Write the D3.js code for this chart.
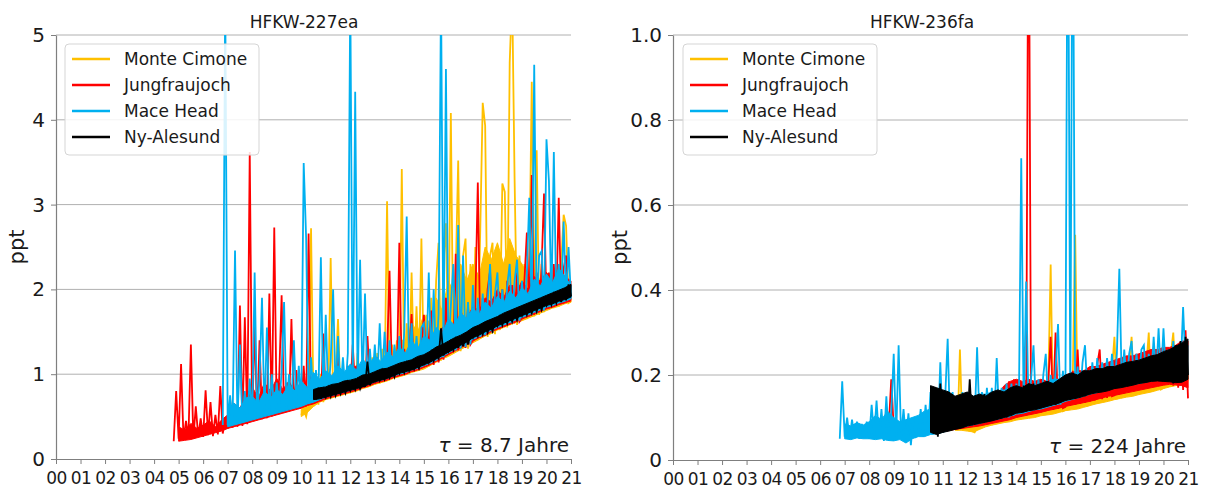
<!DOCTYPE html>
<html><head><meta charset="utf-8">
<script src="https://cdn.jsdelivr.net/npm/d3@7"></script>
<style>
html,body{margin:0;padding:0;background:#fff;}
svg{display:block;font-family:"DejaVu Sans",sans-serif;}
</style></head>
<body>
<svg id="chart" width="1205" height="493"></svg>
<script>
// ---------- data ----------
const stations = ["Monte Cimone", "Jungfraujoch", "Mace Head", "Ny-Alesund"];
const stationColors = ["#FFC000", "#FF0000", "#00B0F0", "#000000"];
const xTickLabels = ["00","01","02","03","04","05","06","07","08","09","10","11","12","13","14","15","16","17","18","19","20","21"];
const yTicks227 = [0, 1, 2, 3, 4, 5];
const yTickLabels227 = ["0", "1", "2", "3", "4", "5"];
const yTicks236 = [0, 0.2, 0.4, 0.6, 0.8, 1.0];
const yTickLabels236 = ["0", "0.2", "0.4", "0.6", "0.8", "1.0"];
const titles = ["HFKW-227ea", "HFKW-236fa"];
const lifetimes = ["8.7 Jahre", "224 Jahre"];
const sampleStep = 0.1;    // individual readings, every 0.1 year
const bandStep = 0.25;     // spread of the dense readings (low / high), every 0.25 year

// ===== HFKW-227ea =====
const mc227Start = 2010.0;
const mc227 = [
 0.52,0.58,0.50,0.65,2.72,0.62,0.85,0.64,1.00,0.67,
 0.90,0.71,2.37,0.73,1.00,1.65,0.75,1.05,0.77,1.10,
 0.79,1.20,0.80,1.25,0.82,1.10,0.84,1.15,0.86,1.20,
 0.88,1.25,0.89,1.30,0.91,3.04,0.93,1.35,0.95,1.40,
 0.97,3.42,0.99,1.60,1.01,2.20,1.03,1.80,1.05,2.60,
 1.07,1.70,1.09,1.90,1.12,2.10,2.55,1.16,2.30,2.78,
 1.22,4.08,1.24,2.20,3.52,1.27,2.40,2.60,1.30,2.30,
 1.38,2.50,1.40,2.70,4.20,3.93,1.44,2.40,2.55,1.47,
 2.40,1.52,3.25,3.15,1.55,4.67,5.50,3.30,1.58,2.40,
 1.64,2.30,1.65,2.20,4.45,1.68,3.64,1.70,2.30,1.73,
 2.20,1.76,2.40,1.78,2.10,1.80,2.30,2.88,2.75,1.84,
 1.86];
const mc227BandStart = 2010.0;
const mc227Lo = [
 0.50,0.55,0.62,0.67, 0.70,0.72,0.74,0.76, 0.78,0.80,0.83,0.85, 0.88,0.90,0.92,0.95,
 0.97,0.99,1.02,1.04, 1.06,1.10,1.14,1.18, 1.21,1.25,1.29,1.33, 1.37,1.41,1.45,1.48,
 1.52,1.55,1.58,1.61, 1.63,1.66,1.69,1.72, 1.75,1.78,1.80,1.83, 1.85];
const mc227Hi = [
 0.58,0.70,0.85,0.80, 0.95,0.90,1.00,0.95, 1.05,1.00,1.10,1.05, 1.15,1.10,1.25,1.20,
 1.45,1.35,1.60,1.50, 1.70,1.60,1.90,1.75, 2.10,1.95,2.30,2.10, 2.30,2.15,2.50,2.35,
 2.55,2.30,2.60,2.40, 2.30,2.15,2.25,2.10, 2.20,2.05,2.30,2.15, 2.05];

const jfj227Start = 2004.8;
const jfj227 = [
 0.21,0.80,
 0.24,1.12,0.23,0.45,0.25,1.35,0.24,0.62,0.26,0.48,
 0.26,0.81,0.28,0.67,0.27,0.52,0.29,0.86,0.30,0.47,
 0.36,0.70,0.37,0.62,0.38,1.81,0.39,1.67,0.41,3.62,
 0.45,1.60,0.46,1.40,0.47,0.85,0.48,1.95,0.50,2.73,
 0.53,0.95,1.93,0.55,0.90,0.56,1.65,0.58,1.05,0.60,
 0.61,1.10,0.62,2.66,0.64,1.00,0.66,0.95,0.68,1.48,
 0.72,1.00,0.73,0.95,0.74,1.30,0.76,1.05,0.78,1.10,
 0.80,1.35,0.81,1.10,0.83,1.05,0.85,1.45,0.87,1.15,
 0.90,1.20,0.91,1.15,0.92,1.25,2.22,0.95,1.20,0.97,
 2.55,0.99,1.30,1.00,1.25,1.71,1.03,1.35,1.05,1.30,
 1.70,1.09,1.40,1.75,1.11,1.45,1.14,1.50,1.17,1.90,
 1.24,1.60,1.26,2.42,1.28,1.75,1.65,1.31,1.80,1.35,
 1.40,1.85,3.26,1.43,1.90,1.45,2.00,2.22,1.49,1.95,
 1.80,1.54,2.00,1.56,2.10,1.58,2.05,1.60,2.20,1.62,
 1.66,2.10,2.67,1.68,3.35,1.70,2.20,1.73,2.25,3.13,
 1.78,2.20,1.79,2.30,1.81,3.08,1.83,2.25,2.40,1.86,
 1.87];
const jfj227BandStart = 2005.0;
const jfj227Lo = [
 0.21,0.22,0.23,0.25, 0.27,0.29,0.31,0.33, 0.36,0.38,0.40,0.42, 0.44,0.46,0.48,0.50,
 0.52,0.54,0.56,0.58, 0.60,0.63,0.65,0.68, 0.71,0.73,0.75,0.77, 0.79,0.81,0.84,0.86,
 0.89,0.91,0.93,0.96, 0.98,1.00,1.03,1.05, 1.08,1.11,1.15,1.19, 1.23,1.27,1.31,1.35,
 1.39,1.43,1.46,1.50, 1.53,1.56,1.59,1.62, 1.65,1.68,1.71,1.74, 1.77,1.79,1.82,1.84, 1.87];
const jfj227Hi = [
 0.38,0.34,0.42,0.36, 0.40,0.45,0.38,0.46, 0.52,0.66,0.60,0.75, 0.85,0.72,0.90,0.80,
 0.95,0.82,0.92,0.78, 0.92,0.84,0.98,0.88, 1.00,0.95,1.05,0.98, 1.05,1.10,1.00,1.12,
 1.15,1.10,1.25,1.20, 1.30,1.22,1.35,1.28, 1.40,1.45,1.38,1.55, 1.60,1.55,1.70,1.65,
 1.80,1.75,1.90,1.85, 2.00,1.90,2.05,1.95, 2.10,2.00,2.15,2.10, 2.20,2.10,2.25,2.15, 2.10];

const mh227Start = 2006.8;
const mh227 = [
 0.40,5.50,
 0.40,0.75,0.41,2.46,0.42,1.35,0.43,0.80,0.45,0.95,
 0.48,2.20,0.49,0.95,1.90,0.50,1.55,0.52,1.00,0.54,
 0.90,0.56,1.05,1.85,0.58,1.00,0.60,1.40,0.62,1.10,
 0.64,3.49,2.60,0.66,1.20,0.68,1.05,0.70,2.38,0.72,
 1.70,0.75,1.15,2.00,0.77,1.45,0.79,1.20,0.81,1.25,
 5.50,0.83,4.33,0.84,2.35,0.86,1.95,0.88,1.30,0.90,
 1.35,0.92,1.60,0.93,1.50,0.95,1.40,0.97,1.35,0.99,
 1.45,1.01,1.50,2.86,1.03,1.60,1.05,1.45,1.07,1.55,
 1.60,1.11,2.20,1.13,2.00,1.16,1.70,5.50,1.20,4.60,
 1.26,1.80,2.30,1.28,2.76,1.30,2.40,1.32,1.85,1.35,
 2.05,1.42,1.90,1.44,1.95,1.46,1.85,2.30,1.49,1.95,
 2.20,1.56,2.00,1.58,2.05,2.30,1.60,2.10,2.35,1.63,
 2.10,1.68,2.20,3.08,1.70,4.65,1.72,2.40,2.45,1.75,
 3.77,3.28,1.81,3.62,1.83,2.30,1.85,2.80,1.87,2.50,
 1.90];
const mh227BandStart = 2007.0;
const mh227Lo = [
 0.38,0.40,0.42,0.44, 0.46,0.48,0.50,0.52, 0.54,0.56,0.58,0.60, 0.62,0.65,0.67,0.70,
 0.73,0.75,0.77,0.79, 0.81,0.83,0.86,0.88, 0.91,0.93,0.95,0.98, 1.00,1.02,1.05,1.07,
 1.10,1.13,1.17,1.21, 1.25,1.29,1.33,1.37, 1.41,1.45,1.48,1.52, 1.55,1.58,1.61,1.64,
 1.67,1.70,1.73,1.76, 1.79,1.81,1.84,1.86, 1.89];
const mh227Hi = [
 0.58,0.66,0.60,0.72, 0.74,0.66,0.80,0.72, 0.82,0.76,0.88,0.80, 0.92,0.84,1.02,0.94,
 1.04,0.98,1.10,1.02, 1.12,1.05,1.18,1.10, 1.22,1.15,1.26,1.20, 1.32,1.25,1.40,1.30,
 1.45,1.40,1.55,1.48, 1.65,1.58,1.72,1.66, 1.78,1.70,1.85,1.78, 1.92,1.84,1.98,1.90,
 2.02,1.95,2.12,2.04, 2.18,2.08,2.25,2.15, 2.05];

const ny227Start = 2010.6;
const ny227 = [
 0.70,0.84,0.71,0.82,
 0.73,0.84,0.74,0.86,0.75,0.85,0.77,0.88,0.78,0.90,
 0.81,0.91,0.82,0.93,0.83,0.92,0.85,1.15,0.87,0.97,
 0.92,1.02,0.93,1.04,0.94,1.03,0.96,1.06,0.97,1.08,
 1.01,1.11,1.02,1.13,1.04,1.12,1.06,1.15,1.07,1.17,
 1.12,1.22,1.14,1.26,1.16,1.25,1.19,1.54,1.22,1.33,
 1.27,1.38,1.29,1.41,1.31,1.44,1.33,1.46,1.35,1.48,
 1.43,1.53,1.45,1.56,1.47,1.58,1.49,1.60,1.51,1.62,
 1.57,1.67,1.58,1.69,1.60,1.71,1.62,1.73,1.64,1.75,
 1.69,1.79,1.70,1.81,1.72,1.83,1.74,1.85,1.76,1.87,
 1.81,1.91,1.82,1.94,1.84,1.96,1.85,2.00,1.87,2.06,
 1.92];
const ny227BandStart = 2010.5;
const ny227Lo = [
 0.70,0.71,
 0.73,0.75,0.77,0.79, 0.81,0.83,0.85,0.88, 0.91,0.93,0.95,0.98, 1.01,1.03,1.05,1.08,
 1.11,1.14,1.18,1.22, 1.26,1.30,1.34,1.38, 1.43,1.46,1.50,1.53, 1.57,1.60,1.63,1.66,
 1.69,1.72,1.75,1.78, 1.81,1.83,1.86,1.88, 1.91];
const ny227Hi = [
 0.82,0.84,
 0.85,0.88,0.89,0.92, 0.93,0.95,0.99,1.00, 1.03,1.06,1.07,1.10, 1.13,1.15,1.17,1.21,
 1.23,1.27,1.32,1.35, 1.39,1.43,1.46,1.50, 1.55,1.58,1.62,1.65, 1.68,1.72,1.75,1.78,
 1.81,1.84,1.87,1.90, 1.93,1.96,1.99,2.02, 2.06];

// ===== HFKW-236fa =====
const mc236Start = 2011.2;
const mc236 = [
 0.075,0.13,0.072,0.12,0.07,0.26,0.07,0.12,
 0.072,0.12,0.068,0.065,0.075,0.13,0.078,0.12,0.08,0.13,
 0.082,0.14,0.085,0.13,0.088,0.14,0.09,0.15,0.092,0.14,
 0.094,0.15,0.096,0.16,0.098,0.15,0.10,0.16,0.102,0.16,
 0.105,0.16,0.108,0.17,0.46,0.11,0.17,0.112,0.18,0.115,
 0.118,0.18,0.12,0.19,0.53,0.122,0.19,0.125,0.19,0.128,
 0.13,0.20,0.132,0.20,0.135,0.21,0.138,0.20,0.14,0.21,
 0.29,0.143,0.21,0.146,0.22,0.15,0.22,0.29,0.152,0.22,
 0.155,0.23,0.158,0.22,0.30,0.16,0.23,0.163,0.24,0.166,
 0.17,0.24,0.172,0.25,0.30,0.175,0.25,0.178,0.26,0.18,
 0.185];
const mc236BandStart = 2011.5;
const mc236Lo = [
 0.070,0.070,
 0.068,0.066,0.072,0.078, 0.082,0.085,0.088,0.090, 0.094,0.096,0.098,0.100, 0.104,0.106,0.108,0.112,
 0.116,0.118,0.120,0.124, 0.128,0.132,0.135,0.138, 0.142,0.145,0.148,0.150, 0.154,0.157,0.160,0.164,
 0.168,0.172,0.175,0.178, 0.185];
const mc236Hi = [
 0.12,0.12,
 0.12,0.12,0.13,0.13, 0.14,0.14,0.145,0.15, 0.15,0.155,0.16,0.16, 0.165,0.17,0.17,0.175,
 0.18,0.185,0.19,0.19, 0.195,0.20,0.20,0.205, 0.21,0.21,0.215,0.22, 0.22,0.225,0.23,0.235,
 0.24,0.245,0.25,0.255, 0.26];

const jfj236EarlyStart = 2008.8;
const jfj236Early = [0.08, 0.19, 0.075];
const jfj236Start = 2011.0;
const jfj236 = [
 0.07,0.13,0.068,0.14,0.07,0.12,0.072,0.13,0.074,0.14,
 0.076,0.14,0.078,0.15,0.08,0.14,0.082,0.15,0.085,0.145,
 0.088,0.15,0.09,0.155,0.092,0.16,0.095,0.185,0.10,0.19,
 0.10,0.19,0.102,0.18,0.105,1.50,0.108,0.18,0.11,0.185,
 0.112,0.19,0.115,0.18,0.29,0.118,0.30,0.12,0.19,0.122,
 0.125,0.20,0.128,0.21,0.13,0.26,0.132,0.21,0.135,0.215,
 0.138,0.22,0.14,0.225,0.26,0.143,0.22,0.146,0.23,0.15,
 0.152,0.235,0.155,0.24,0.158,0.245,0.16,0.24,0.162,0.25,
 0.165,0.25,0.168,0.255,0.17,0.26,0.172,0.255,0.175,0.26,
 0.178,0.26,0.18,0.265,0.175,0.27,0.17,0.28,0.165,0.305,
 0.145];
const jfj236BandStart = 2011.0;
const jfj236Lo = [
 0.068,0.070,0.072,0.074, 0.076,0.078,0.080,0.083, 0.086,0.089,0.092,0.095, 0.100,0.103,0.106,0.109,
 0.112,0.116,0.119,0.122, 0.126,0.129,0.132,0.135, 0.138,0.142,0.146,0.150, 0.152,0.155,0.158,0.161,
 0.164,0.167,0.170,0.173, 0.176,0.178,0.177,0.175, 0.170];
const jfj236Hi = [
 0.13,0.13,0.135,0.14, 0.14,0.145,0.14,0.15, 0.15,0.155,0.175,0.185, 0.19,0.185,0.19,0.185,
 0.19,0.185,0.19,0.19, 0.20,0.205,0.21,0.21, 0.22,0.22,0.225,0.23, 0.235,0.24,0.245,0.245,
 0.25,0.255,0.26,0.26, 0.265,0.265,0.27,0.28, 0.28];

const mh236Start = 2006.8;
const mh236 = [
 0.05,0.185,
 0.055,0.10,0.050,0.095,0.052,0.09,0.05,0.085,0.055,0.09,
 0.05,0.13,0.055,0.14,0.05,0.12,0.045,0.15,0.05,0.11,
 0.25,0.05,0.27,0.055,0.12,0.05,0.11,0.035,0.10,0.055,
 0.06,0.12,0.055,0.13,0.06,0.16,0.06,0.17,0.065,0.23,
 0.07,0.15,0.285,0.072,0.16,0.075,0.15,0.078,0.16,0.08,
 0.16,0.082,0.15,0.085,0.265,0.088,0.16,0.09,0.17,0.092,
 0.17,0.095,0.24,0.098,0.17,0.10,0.18,0.10,0.18,0.105,
 0.18,0.108,0.71,0.11,0.42,0.115,0.19,0.27,0.12,0.19,
 0.122,0.20,0.25,0.125,0.20,0.128,0.21,0.32,0.13,0.21,
 0.14,1.50,0.142,1.50,0.145,0.22,0.15,0.23,0.27,0.155,
 0.16,0.23,0.162,0.24,0.165,0.23,0.168,0.24,0.17,0.25,
 0.172,0.25,0.45,0.175,0.26,0.178,0.25,0.28,0.18,0.25,
 0.185,0.26,0.27,0.188,0.25,0.19,0.29,0.192,0.31,0.195,
 0.31,0.198,0.26,0.20,0.28,0.205,0.27,0.21,0.36,0.22,
 0.22];
const mh236BandStart = 2007.0;
const mh236Lo = [
 0.050,0.048,0.052,0.050, 0.050,0.048,0.050,0.046, 0.045,0.048,0.040,0.050, 0.055,0.055,0.060,0.062,
 0.065,0.070,0.075,0.078, 0.080,0.083,0.086,0.090, 0.093,0.096,0.100,0.103, 0.108,0.110,0.114,0.118,
 0.120,0.124,0.128,0.132, 0.138,0.142,0.146,0.150, 0.155,0.158,0.162,0.166, 0.170,0.172,0.175,0.178,
 0.180,0.183,0.186,0.188, 0.190,0.193,0.196,0.198, 0.200];
const mh236Hi = [
 0.085,0.080,0.088,0.082, 0.090,0.105,0.095,0.115, 0.100,0.090,0.095,0.100, 0.105,0.115,0.120,0.130,
 0.140,0.140,0.145,0.145, 0.150,0.150,0.155,0.155, 0.160,0.160,0.165,0.165, 0.170,0.170,0.175,0.175,
 0.180,0.180,0.190,0.190, 0.200,0.200,0.205,0.205, 0.210,0.210,0.215,0.215, 0.220,0.220,0.225,0.230,
 0.235,0.235,0.240,0.240, 0.250,0.250,0.260,0.265, 0.270];

const ny236Start = 2010.6;
const ny236 = [
 0.07,0.17,0.055,0.18,
 0.065,0.16,0.07,0.15,0.072,0.14,0.075,0.15,0.078,0.145,
 0.08,0.19,0.082,0.15,0.085,0.14,0.088,0.155,0.09,0.15,
 0.092,0.16,0.095,0.155,0.098,0.16,0.10,0.165,0.105,0.17,
 0.11,0.17,0.112,0.175,0.115,0.17,0.118,0.18,0.12,0.175,
 0.122,0.18,0.125,0.185,0.128,0.18,0.13,0.16,0.135,0.19,
 0.14,0.20,0.142,0.205,0.145,0.20,0.148,0.21,0.15,0.205,
 0.155,0.21,0.158,0.215,0.16,0.21,0.162,0.22,0.165,0.215,
 0.168,0.22,0.17,0.225,0.172,0.23,0.175,0.225,0.178,0.235,
 0.18,0.235,0.182,0.24,0.185,0.245,0.188,0.24,0.19,0.25,
 0.185,0.255,0.19,0.26,0.18,0.27,0.185,0.28,0.19,0.29,
 0.20];
const ny236BandStart = 2010.5;
const ny236Lo = [
 0.065,0.060,
 0.065,0.068,0.072,0.075, 0.080,0.083,0.086,0.089, 0.092,0.096,0.100,0.104, 0.110,0.112,0.116,0.118,
 0.122,0.126,0.130,0.134, 0.140,0.143,0.146,0.150, 0.155,0.158,0.160,0.163, 0.168,0.170,0.173,0.176,
 0.180,0.182,0.185,0.186, 0.185,0.184,0.182,0.183, 0.190];
const ny236Hi = [
 0.175,0.170,
 0.165,0.160,0.150,0.155, 0.160,0.150,0.155,0.150, 0.160,0.165,0.160,0.170, 0.175,0.170,0.180,0.175,
 0.180,0.185,0.180,0.190, 0.200,0.205,0.200,0.210, 0.210,0.215,0.215,0.220, 0.220,0.225,0.230,0.232,
 0.235,0.240,0.245,0.248, 0.255,0.260,0.268,0.275, 0.285];

// ---------- drawing ----------
const svg = d3.select("#chart");
svg.append("rect").attr("width", 1205).attr("height", 493).attr("fill", "#fff");

const toPoints = (start, vals) => vals.map((v, i) => [start + i * sampleStep, v]);
const toBand = (start, lo, hi) => lo.map((v, i) => [Math.min(start + i * bandStep, 2021), v, hi[i]]);

const panels = [
  { title: titles[0], titleX: 304, left: 56, right: 571, top: 35, bottom: 459, yMax: 5,
    yTicks: yTicks227, yLabels: yTickLabels227, tau: lifetimes[0],
    legend: { x: 65, y: 44 },
    series: [
      { c: 0, pts: toPoints(mc227Start, mc227), band: toBand(mc227BandStart, mc227Lo, mc227Hi) },
      { c: 1, pts: toPoints(jfj227Start, jfj227), band: toBand(jfj227BandStart, jfj227Lo, jfj227Hi) },
      { c: 2, pts: toPoints(mh227Start, mh227), band: toBand(mh227BandStart, mh227Lo, mh227Hi) },
      { c: 3, pts: toPoints(ny227Start, ny227), band: toBand(ny227BandStart, ny227Lo, ny227Hi) } ] },
  { title: titles[1], titleX: 922, left: 673, right: 1188, top: 35, bottom: 460, yMax: 1.0,
    yTicks: yTicks236, yLabels: yTickLabels236, tau: lifetimes[1],
    legend: { x: 683, y: 44 },
    series: [
      { c: 0, pts: toPoints(mc236Start, mc236), band: toBand(mc236BandStart, mc236Lo, mc236Hi) },
      { c: 1, pts: toPoints(jfj236EarlyStart, jfj236Early), band: null },
      { c: 1, pts: toPoints(jfj236Start, jfj236), band: toBand(jfj236BandStart, jfj236Lo, jfj236Hi) },
      { c: 2, pts: toPoints(mh236Start, mh236), band: toBand(mh236BandStart, mh236Lo, mh236Hi) },
      { c: 3, pts: toPoints(ny236Start, ny236), band: toBand(ny236BandStart, ny236Lo, ny236Hi) } ] }
];

const gridColor = "#b0b0b0", spineColor = "#7f7f7f", textColor = "#1a1a1a";

panels.forEach((p, pi) => {
  const x = d3.scaleLinear().domain([2000, 2021]).range([p.left, p.right]);
  const y = d3.scaleLinear().domain([0, p.yMax]).range([p.bottom, p.top]);
  const g = svg.append("g");

  g.selectAll("line.grid").data(p.yTicks.filter(t => t > 0)).join("line")
    .attr("x1", p.left).attr("x2", p.right)
    .attr("y1", d => y(d)).attr("y2", d => y(d))
    .attr("stroke", gridColor).attr("stroke-width", 1);

  const clipId = "clip" + pi;
  svg.append("clipPath").attr("id", clipId).append("rect")
    .attr("x", p.left).attr("y", p.top).attr("width", p.right - p.left + 1).attr("height", p.bottom - p.top + 2);

  const line = d3.line().x(d => x(d[0])).y(d => y(d[1]));
  const area = d3.area().x(d => x(d[0])).y0(d => y(d[1])).y1(d => y(d[2]));
  const lg = g.append("g").attr("clip-path", `url(#${clipId})`);
  p.series.forEach(s => {
    if (s.band) {
      lg.append("path").datum(s.band).attr("d", area)
        .attr("fill", stationColors[s.c]).attr("stroke", stationColors[s.c]).attr("stroke-width", 1);
    }
    lg.append("path").datum(s.pts).attr("d", line)
      .attr("fill", "none").attr("stroke", stationColors[s.c])
      .attr("stroke-width", 1.8).attr("stroke-linejoin", "miter");
  });

  const xAxis = d3.axisBottom(x).tickValues(d3.range(2000, 2022))
    .tickFormat((d, i) => xTickLabels[i]).tickSize(5).tickPadding(8).tickSizeOuter(0);
  const xa = g.append("g").attr("transform", `translate(0,${p.bottom})`).call(xAxis);
  xa.select(".domain").attr("stroke", spineColor).attr("stroke-width", 1.2);
  xa.selectAll(".tick line").attr("stroke", spineColor);
  xa.selectAll(".tick text").attr("font-size", 17).attr("fill", textColor)
    .attr("font-family", "DejaVu Sans").attr("letter-spacing", -0.6);

  const yAxis = d3.axisLeft(y).tickValues(p.yTicks)
    .tickFormat((d, i) => p.yLabels[i]).tickSize(5).tickPadding(6).tickSizeOuter(0);
  const ya = g.append("g").attr("transform", `translate(${p.left},0)`).call(yAxis);
  ya.select(".domain").attr("stroke", spineColor).attr("stroke-width", 1.2);
  ya.selectAll(".tick line").attr("stroke", spineColor);
  ya.selectAll(".tick text").attr("font-size", 20).attr("fill", textColor).attr("font-family", "DejaVu Sans");

  g.append("text").attr("transform", `translate(${p.left - 32 - (pi ? 14 : 0)},${(p.top + p.bottom) / 2}) rotate(-90)`)
    .attr("text-anchor", "middle").attr("font-size", 21).attr("fill", textColor).text("ppt");

  g.append("text").attr("x", p.titleX).attr("y", 28)
    .attr("text-anchor", "middle").attr("font-size", 17).attr("fill", textColor).text(p.title);

  const tt = g.append("text").attr("x", p.right - 2).attr("y", p.bottom - 7)
    .attr("text-anchor", "end").attr("font-size", 20).attr("fill", textColor);
  tt.append("tspan").attr("font-style", "italic").text("τ");
  tt.append("tspan").text(" = " + p.tau);

  const L = p.legend;
  g.append("rect").attr("x", L.x).attr("y", L.y).attr("width", 194).attr("height", 111)
    .attr("rx", 4).attr("fill", "#fff").attr("fill-opacity", 0.85)
    .attr("stroke", "#d5d5d5").attr("stroke-width", 1);
  stations.forEach((name, i) => {
    const cy = L.y + 15 + i * 26;
    g.append("line").attr("x1", L.x + 7).attr("x2", L.x + 45).attr("y1", cy).attr("y2", cy)
      .attr("stroke", stationColors[i]).attr("stroke-width", 2.5);
    g.append("text").attr("x", L.x + 59).attr("y", cy).attr("dy", "0.35em")
      .attr("font-size", 17).attr("fill", textColor).text(name);
  });
});
</script>
</body></html>
